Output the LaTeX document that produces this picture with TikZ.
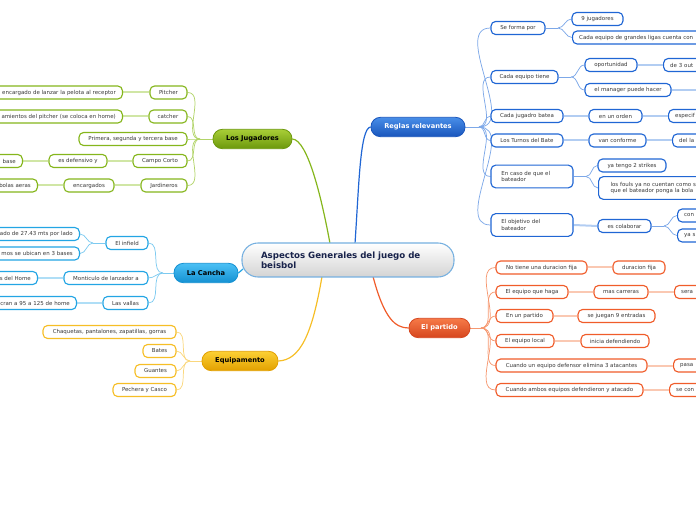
\documentclass[tikz,border=0pt]{standalone}
\usepackage{fontspec}
\setmainfont{DejaVu Sans}
\pgfdeclarelayer{bg}
\pgfsetlayers{bg,main}
% green
\definecolor{gJ}{RGB}{133,182,28}
\definecolor{gJl}{RGB}{178,212,105}
\definecolor{gJp}{RGB}{208,230,165}
\definecolor{gJt}{RGB}{168,206,55}
\definecolor{gJb}{RGB}{108,152,12}
% blue
\definecolor{bR}{RGB}{32,102,212}
\definecolor{bRl}{RGB}{125,168,232}
\definecolor{bRp}{RGB}{178,205,242}
\definecolor{bRt}{RGB}{72,142,232}
\definecolor{bRb}{RGB}{25,85,188}
% cyan
\definecolor{cC}{RGB}{35,165,228}
\definecolor{cCl}{RGB}{125,202,240}
\definecolor{cCp}{RGB}{175,222,246}
\definecolor{cCt}{RGB}{75,192,245}
\definecolor{cCb}{RGB}{20,145,210}
% yellow
\definecolor{yE}{RGB}{246,190,38}
\definecolor{yEl}{RGB}{250,215,125}
\definecolor{yEt}{RGB}{252,208,52}
\definecolor{yEb}{RGB}{226,160,0}
% red
\definecolor{rP}{RGB}{240,92,42}
\definecolor{rPl}{RGB}{246,152,112}
\definecolor{rPp}{RGB}{250,200,178}
\definecolor{rPt}{RGB}{246,122,72}
\definecolor{rPb}{RGB}{214,70,30}
% center
\definecolor{cB}{RGB}{118,176,224}
\definecolor{navy}{RGB}{25,35,75}
\tikzset{
 leaf/.style={draw, line width=0.85pt, rounded corners=3.5pt, fill=white,
   font=\fontsize{4.1}{4.8}\selectfont, text=black!78, inner xsep=5pt,
   inner ysep=1pt, minimum height=9.8pt},
 pw/.style={minimum width=#1*0.75pt},
 LG/.style={leaf, draw=gJ},
 LB/.style={leaf, draw=bR},
 LC/.style={leaf, draw=cC},
 LY/.style={leaf, draw=yE},
 LR/.style={leaf, draw=rP},
 cutL/.style={anchor=east, text width=110pt, align=right},
 cutR/.style={anchor=west, text width=110pt, align=left},
 branch/.style={rounded corners=7pt, minimum height=14.5pt, inner sep=0pt,
   font=\bfseries\fontsize{5}{6}\selectfont, line width=0.6pt},
 fan/.style={line width=0.55pt},
 bar/.style={line width=1.5pt},
 trunk/.style={line width=0.9pt},
}
\begin{document}
\begin{tikzpicture}[x=0.75pt,y=-0.75pt]
\useasboundingbox (0,0) rectangle (696,520);
\clip (0,0) rectangle (696,520);

% ---------- center ----------
\node[draw=cB, line width=0.8pt, rounded corners=12pt, top color=white,
  bottom color=black!17, minimum width=159pt, minimum height=25.5pt,
  inner sep=0pt, text width=130.5pt, align=left, text=navy,
  font=\bfseries\fontsize{6.5}{7.6}\selectfont] (ctr) at (348,260)
  {Aspectos Generales del juego de\\beisbol};
\coordinate (cJ) at (330,243.5);
\coordinate (cR) at (355,243.5);
\coordinate (cC) at (243,269);
\coordinate (cY) at (322,276.5);
\coordinate (cP) at (373,276.5);

% ---------- branches ----------
\node[branch, pw=79, draw=gJb, top color=gJt, bottom color=gJb, text=black] (jug) at (252.5,139) {Los Jugadores};
\node[branch, pw=94, draw=bRb, top color=bRt, bottom color=bRb, text=white] (reg) at (418,127) {Reglas relevantes};
\node[branch, pw=64, draw=cCb, top color=cCt, bottom color=cCb, text=black] (can) at (206,273) {La Cancha};
\node[branch, pw=76, draw=yEb, top color=yEt, bottom color=yEb, text=black] (equ) at (240,361) {Equipamento};
\node[branch, pw=61, draw=rPb, top color=rPt, bottom color=rPb, text=white] (par) at (439.5,328) {El partido};

% ---------- Los Jugadores ----------
\node[LG, pw=37] (pit) at (168.5,92.5) {Pitcher};
\node[LG, cutL] (pita) at (123,92.5) {encargado de lanzar la pelota al receptor};
\node[LG, pw=38] (cat) at (168,116.5) {catcher};
\node[LG, cutL] (cata) at (123,116.5) {amientos del pitcher (se coloca en home)};
\node[LG, pw=108] (pri) at (133,139) {Primera, segunda y tercera base};
\node[LG, pw=54] (cam) at (160,161) {Campo Corto};
\node[LG, pw=58] (esd) at (78,161) {es defensivo y};
\node[LG, cutL] (bas) at (23,161) {base};
\node[LG, pw=46] (jar) at (164,185.5) {Jardineros};
\node[LG, pw=50] (enc) at (89,185.5) {encargados};
\node[LG, cutL] (bol) at (38,185.5) {bolas aeras};

% ---------- La Cancha ----------
\node[LC, pw=42] (inf) at (127,243) {El infield};
\node[LC, cutL] (infa) at (80,234) {ado de 27.43 mts por lado};
\node[LC, cutL] (infb) at (80,253.5) {mos se ubican en 3 bases};
\node[LC, pw=84] (mon) at (106,278) {Monticulo de lanzador a};
\node[LC, cutL] (mona) at (38,278) {s del Home};
\node[LC, pw=45] (val) at (125.5,303) {Las vallas};
\node[LC, cutL] (vala) at (77,303) {cran a 95 a 125 de home};

% ---------- Equipamento ----------
\node[LY, pw=133] (chq) at (109.5,332) {Chaquetas, pantalones, zapatillas, gorras};
\node[LY, pw=33] (bat) at (159.5,351) {Bates};
\node[LY, pw=41] (gua) at (155.5,371) {Guantes};
\node[LY, pw=63] (pec) at (144.5,390) {Pechera y Casco};

% ---------- Reglas relevantes ----------
\node[LB, pw=54] (sfp) at (518,28) {Se forma por};
\node[LB, pw=51] (nue) at (597.5,19) {9 jugadores};
\node[LB, cutR] (cad) at (572,37.5) {Cada equipo de grandes ligas cuenta con};
\node[LB, pw=67] (cet) at (524.5,77) {Cada equipo tiene};
\node[LB, pw=52] (opo) at (611,65) {oportunidad};
\node[LB, cutR] (out) at (663,65) {de 3 out};
\node[LB, pw=86] (man) at (628,90) {el manager puede hacer};
\coordinate (manr) at (700,90);
\node[LB, pw=72] (cjb) at (527,116) {Cada jugadro batea};
\node[LB, pw=53] (ord) at (615.5,116) {en un orden};
\node[LB, cutR] (esp) at (668,116) {especif};
\node[LB, pw=72] (tur) at (527,140.5) {Los Turnos del Bate};
\node[LB, pw=57] (van) at (617.5,140.5) {van conforme};
\node[LB, cutR] (del) at (672,140.5) {del la};
\node[LB, pw=82, text width=46pt, align=left, minimum height=17pt] (ecq) at (532,176.5) {En caso de que el\\bateador};
\node[LB, pw=68] (str) at (632,165.5) {ya tengo 2 strikes};
\node[LB, cutR, minimum height=17pt, inner xsep=9pt] (fou) at (598,188) {los fouls ya no cuentan como s\\que el bateador ponga la bola};
\node[LB, pw=82, text width=46pt, align=left, minimum height=17pt] (obj) at (532,225) {El objetivo del\\bateador};
\node[LB, pw=53] (col) at (624.5,226) {es colaborar};
\node[LB, cutR] (con) at (677,215.5) {con};
\node[LB, cutR] (yas) at (677,235.5) {ya s};

% ---------- El partido ----------
\node[LR, pw=91] (ntd) at (541.5,267.5) {No tiene una duracion fija};
\node[LR, pw=52] (dur) at (639,267.5) {duracion fija};
\node[LR, pw=72] (eqh) at (532,292) {El equipo que haga};
\node[LR, pw=54] (mas) at (621,292) {mas carreras};
\node[LR, cutR] (ser) at (674,292) {sera};
\node[LR, pw=57] (enp) at (524.5,316) {En un partido};
\node[LR, pw=77] (sej) at (616.5,316) {se juegan 9 entradas};
\node[LR, pw=58] (loc) at (525,341) {El equipo local};
\node[LR, pw=68] (ini) at (615,341) {inicia defendiendo};
\node[LR, pw=151] (cu1) at (571.5,365.5) {Cuando un equipo defensor elimina 3 atacantes};
\node[LR, cutR] (pas) at (673,365.5) {pasa};
\node[LR, pw=147] (cu2) at (569.5,390) {Cuando ambos equipos defendieron y atacado};
\node[LR, cutR] (sec) at (669,390) {se con};

% ---------- connectors ----------
\begin{pgfonlayer}{bg}
% trunks
\draw[trunk, draw=gJ] (cJ) .. controls (322,200) and (308,140) .. (jug.east);
\draw[trunk, draw=bR] (cR) .. controls (359,185) and (360,128) .. (reg.west);
\draw[trunk, draw=cC] (can.east) -- (cC);
\draw[trunk, draw=yE] (cY) .. controls (312,335) and (300,360) .. (equ.east);
\draw[trunk, draw=rP] (cP) .. controls (384,318) and (395,328) .. (par.west);

% Los Jugadores fan
\coordinate (jf) at (200,139);
\draw[fan, draw=gJl] (jug.west) -- (jf);
\foreach \n in {pit,cat,pri,cam,jar}
  \draw[fan, draw=gJl] (jf) to[out=180,in=0] (\n.east);
\draw[bar, draw=gJp] (pit.west) -- (pita.east);
\draw[bar, draw=gJp] (cat.west) -- (cata.east);
\draw[bar, draw=gJp] (cam.west) -- (esd.east);
\draw[bar, draw=gJp] (esd.west) -- (bas.east);
\draw[bar, draw=gJp] (jar.west) -- (enc.east);
\draw[bar, draw=gJp] (enc.west) -- (bol.east);

% La Cancha fan
\coordinate (cf) at (163,273);
\draw[fan, draw=cCl] (can.west) -- (cf);
\foreach \n in {inf,mon,val}
  \draw[fan, draw=cCl] (cf) to[out=180,in=0] (\n.east);
\coordinate (inff) at (93,243);
\draw[fan, draw=cCl] (inf.west) -- (inff);
\foreach \n in {infa,infb}
  \draw[fan, draw=cCl] (inff) to[out=180,in=0] (\n.east);
\draw[bar, draw=cCp] (mon.west) -- (mona.east);
\draw[bar, draw=cCp] (val.west) -- (vala.east);

% Equipamento fan
\coordinate (ef) at (190,361);
\draw[fan, draw=yEl] (equ.west) -- (ef);
\foreach \n in {chq,bat,gua,pec}
  \draw[fan, draw=yEl] (ef) to[out=180,in=0] (\n.east);

% Reglas fan
\coordinate (rf) at (479,127);
\draw[fan, draw=bRl] (reg.east) -- (rf);
\foreach \n in {sfp,cet,cjb,tur,ecq,obj}
  \draw[fan, draw=bRl] (rf) to[out=0,in=180] (\n.west);
\coordinate (sff) at (558,28);
\draw[fan, draw=bRl] (sfp.east) -- (sff);
\foreach \n in {nue,cad}
  \draw[fan, draw=bRl] (sff) to[out=0,in=180] (\n.west);
\coordinate (cef) at (571,77);
\draw[fan, draw=bRl] (cet.east) -- (cef);
\foreach \n in {opo,man}
  \draw[fan, draw=bRl] (cef) to[out=0,in=180] (\n.west);
\coordinate (ecf) at (586,176.5);
\draw[fan, draw=bRl] (ecq.east) -- (ecf);
\foreach \n in {str,fou}
  \draw[fan, draw=bRl] (ecf) to[out=0,in=180] (\n.west);
\coordinate (colf) at (664,226);
\draw[fan, draw=bRl] (col.east) -- (colf);
\foreach \n in {con,yas}
  \draw[fan, draw=bRl] (colf) to[out=0,in=180] (\n.west);
\draw[bar, draw=bRp] (opo.east) -- (out.west);
\draw[bar, draw=bRp] (man.east) -- (manr);
\draw[bar, draw=bRp] (cjb.east) -- (ord.west);
\draw[bar, draw=bRp] (ord.east) -- (esp.west);
\draw[bar, draw=bRp] (tur.east) -- (van.west);
\draw[bar, draw=bRp] (van.east) -- (del.west);
\draw[bar, draw=bRp] (obj.east) -- (col.west);

% El partido fan
\coordinate (pf) at (481,328);
\draw[fan, draw=rPl] (par.east) -- (pf);
\foreach \n in {ntd,eqh,enp,loc,cu1,cu2}
  \draw[fan, draw=rPl] (pf) to[out=0,in=180] (\n.west);
\draw[bar, draw=rPp] (ntd.east) -- (dur.west);
\draw[bar, draw=rPp] (eqh.east) -- (mas.west);
\draw[bar, draw=rPp] (mas.east) -- (ser.west);
\draw[bar, draw=rPp] (enp.east) -- (sej.west);
\draw[bar, draw=rPp] (loc.east) -- (ini.west);
\draw[bar, draw=rPp] (cu1.east) -- (pas.west);
\draw[bar, draw=rPp] (cu2.east) -- (sec.west);
\end{pgfonlayer}
\end{tikzpicture}
\end{document}
